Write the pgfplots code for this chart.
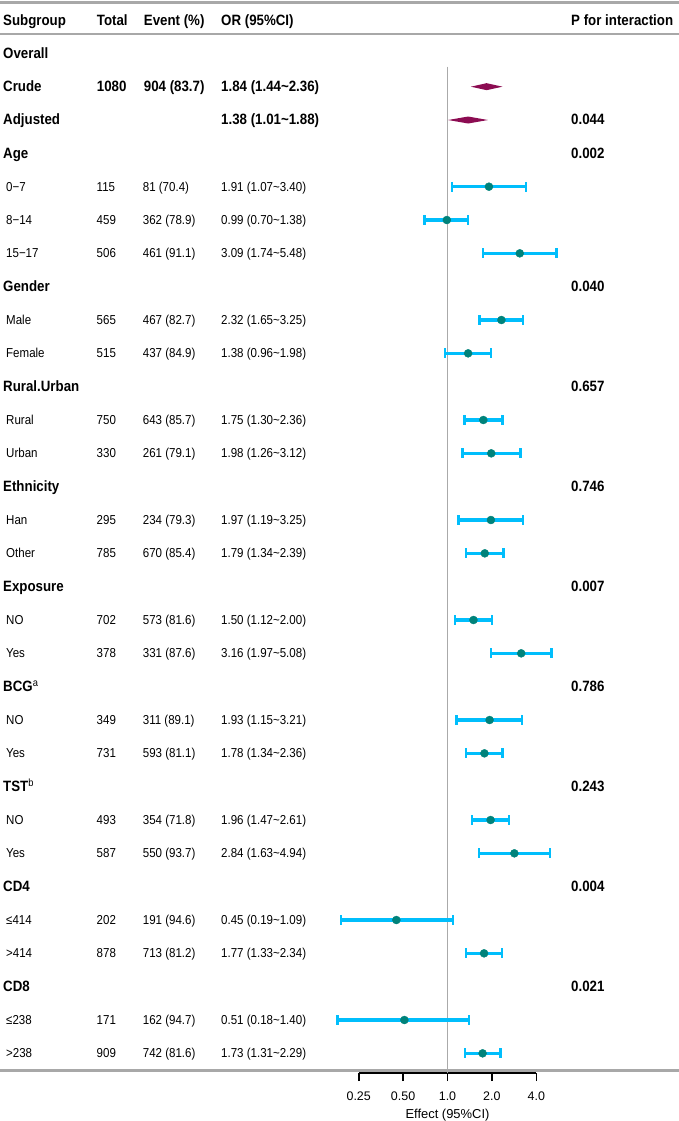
\documentclass[border=0pt]{standalone}
\usepackage{fontspec}
\setmainfont{Liberation Sans}
\newfontfamily\condfont{Liberation Sans}[FakeStretch=0.89]
\usepackage{pgfplots}
\usepackage{pgfplotstable}
\pgfplotsset{compat=1.18}
\definecolor{ciblue}{RGB}{0,190,252}
\definecolor{ptteal}{RGB}{0,130,122}
\definecolor{dmd}{RGB}{140,12,82}
\definecolor{lgray}{RGB}{168,168,168}
\definecolor{rgray}{RGB}{170,170,170}
\pgfplotsset{ciline/.style={ciblue, line width=3.1bp, mark=|, mark size=4.9bp, mark options={line width=2.4bp, solid}}}
\newcommand\ci[3]{\addplot[ciline] coordinates {(#2,-#1) (#3,-#1)};}
% row  estimate  lower  upper
\pgfplotstableread{
k  est   lo    hi
5  1.91  1.07  3.40
6  0.99  0.70  1.38
7  3.09  1.74  5.48
9  2.32  1.65  3.25
10 1.38  0.96  1.98
12 1.75  1.30  2.36
13 1.98  1.26  3.12
15 1.97  1.19  3.25
16 1.79  1.34  2.39
18 1.50  1.12  2.00
19 3.16  1.97  5.08
21 1.93  1.15  3.21
22 1.78  1.34  2.36
24 1.96  1.47  2.61
25 2.84  1.63  4.94
27 0.45  0.19  1.09
28 1.77  1.33  2.34
30 0.51  0.18  1.40
31 1.73  1.31  2.29
}\subdata
\tikzset{
  bf/.style={anchor=base west, inner sep=0pt, font=\condfont\fontsize{15}{17}\selectfont\bfseries},
  rg/.style={anchor=base west, inner sep=0pt, font=\condfont\fontsize{13}{15}\selectfont}
}
\newcommand\by[1]{25.0+33.333*#1}
\newcommand\ry[1]{24.6+33.333*#1}
\newcommand\grp[3]{\node[bf] at (3,{\by{#1}}) {#2};\node[bf] at (571,{\by{#1}}) {#3};}
\newcommand\sub[5]{\node[rg] at (6,{\ry{#1}}) {#2};\node[rg] at (96.5,{\ry{#1}}) {#3};\node[rg] at (142.7,{\ry{#1}}) {#4};\node[rg] at (221,{\ry{#1}}) {#5};}
\begin{document}
\begin{tikzpicture}
\useasboundingbox (0,0) rectangle (679bp,-1121bp);
\begin{scope}[x=1bp,y=-1bp]
\draw[lgray, line width=2.6] (0,2.7)--(679,2.7);
\draw[lgray, line width=1.8] (0,34.3)--(679,34.3);
\draw[lgray, line width=2.2] (0,1070.5)--(679,1070.5);
\end{scope}
\begin{axis}[
  at={(358.7bp,-1073bp)}, anchor=south west, scale only axis,
  width=177.6bp, height=1053bp,
  xmode=log, log basis x=2, xmin=0.25, xmax=4, ymin=-31.59, ymax=0,
  axis x line*=bottom, axis y line=none, clip=false,
  x axis line style={-, black, line width=1.6bp},
  xtick={0.25,0.5,1,2,4}, xticklabels={0.25,0.50,1.0,2.0,4.0},
  xminorticks=false,
  tick align=outside, major tick length=8bp,
  xtick style={black, line width=1.6bp},
  xticklabel style={font=\fontsize{12.5}{14}\selectfont, inner sep=0pt, yshift=-11bp},
  xlabel={Effect (95\%CI)},
  xlabel style={font=\fontsize{13}{15}\selectfont, inner sep=0pt, yshift=-8bp},
]
\addplot[rgray, line width=1.3bp] coordinates {(1,-1.4) (1,-31.59)};
% overall diamonds
\addplot[fill=dmd, draw=none] coordinates {(1.44,-2) (1.84,-1.895) (2.36,-2) (1.84,-2.105)} -- cycle;
\addplot[fill=dmd, draw=none] coordinates {(1.01,-3) (1.38,-2.895) (1.88,-3) (1.38,-3.105)} -- cycle;
\ci{5}{1.07}{3.40}
\ci{6}{0.70}{1.38}
\ci{7}{1.74}{5.48}
\ci{9}{1.65}{3.25}
\ci{10}{0.96}{1.98}
\ci{12}{1.30}{2.36}
\ci{13}{1.26}{3.12}
\ci{15}{1.19}{3.25}
\ci{16}{1.34}{2.39}
\ci{18}{1.12}{2.00}
\ci{19}{1.97}{5.08}
\ci{21}{1.15}{3.21}
\ci{22}{1.34}{2.36}
\ci{24}{1.47}{2.61}
\ci{25}{1.63}{4.94}
\ci{27}{0.19}{1.09}
\ci{28}{1.33}{2.34}
\ci{30}{0.18}{1.40}
\ci{31}{1.31}{2.29}
\addplot[only marks, mark=*, mark size=4bp, mark options={draw=ptteal, fill=ptteal}] table[x=est, y expr=-\thisrow{k}] {\subdata};
\end{axis}
\begin{scope}[x=1bp,y=-1bp]
% header
\node[bf] at (3,25) {Subgroup};
\node[bf] at (96.7,25) {Total};
\node[bf] at (143.7,25) {Event (\%)};
\node[bf] at (221,25) {OR (95\%CI)};
\node[bf] at (571,25) {P for interaction};
\node[bf] at (3,{\by{1}}) {Overall};
\node[bf] at (3,{\by{2}}) {Crude};
\node[bf] at (96.7,{\by{2}}) {1080};
\node[bf] at (143.7,{\by{2}}) {904 (83.7)};
\node[bf] at (221,{\by{2}}) {1.84 (1.44\textasciitilde 2.36)};
\node[bf] at (3,{\by{3}}) {Adjusted};
\node[bf] at (221,{\by{3}}) {1.38 (1.01\textasciitilde 1.88)};
\node[bf] at (571,{\by{3}}) {0.044};
\grp{4}{Age}{0.002}
\sub{5}{0−7}{115}{81 (70.4)}{1.91 (1.07\textasciitilde 3.40)}
\sub{6}{8−14}{459}{362 (78.9)}{0.99 (0.70\textasciitilde 1.38)}
\sub{7}{15−17}{506}{461 (91.1)}{3.09 (1.74\textasciitilde 5.48)}
\grp{8}{Gender}{0.040}
\sub{9}{Male}{565}{467 (82.7)}{2.32 (1.65\textasciitilde 3.25)}
\sub{10}{Female}{515}{437 (84.9)}{1.38 (0.96\textasciitilde 1.98)}
\grp{11}{Rural.Urban}{0.657}
\sub{12}{Rural}{750}{643 (85.7)}{1.75 (1.30\textasciitilde 2.36)}
\sub{13}{Urban}{330}{261 (79.1)}{1.98 (1.26\textasciitilde 3.12)}
\grp{14}{Ethnicity}{0.746}
\sub{15}{Han}{295}{234 (79.3)}{1.97 (1.19\textasciitilde 3.25)}
\sub{16}{Other}{785}{670 (85.4)}{1.79 (1.34\textasciitilde 2.39)}
\grp{17}{Exposure}{0.007}
\sub{18}{NO}{702}{573 (81.6)}{1.50 (1.12\textasciitilde 2.00)}
\sub{19}{Yes}{378}{331 (87.6)}{3.16 (1.97\textasciitilde 5.08)}
\grp{20}{BCG\textsuperscript{\mdseries a}}{0.786}
\sub{21}{NO}{349}{311 (89.1)}{1.93 (1.15\textasciitilde 3.21)}
\sub{22}{Yes}{731}{593 (81.1)}{1.78 (1.34\textasciitilde 2.36)}
\grp{23}{TST\textsuperscript{\mdseries b}}{0.243}
\sub{24}{NO}{493}{354 (71.8)}{1.96 (1.47\textasciitilde 2.61)}
\sub{25}{Yes}{587}{550 (93.7)}{2.84 (1.63\textasciitilde 4.94)}
\grp{26}{CD4}{0.004}
\sub{27}{≤414}{202}{191 (94.6)}{0.45 (0.19\textasciitilde 1.09)}
\sub{28}{>414}{878}{713 (81.2)}{1.77 (1.33\textasciitilde 2.34)}
\grp{29}{CD8}{0.021}
\sub{30}{≤238}{171}{162 (94.7)}{0.51 (0.18\textasciitilde 1.40)}
\sub{31}{>238}{909}{742 (81.6)}{1.73 (1.31\textasciitilde 2.29)}
\end{scope}
\end{tikzpicture}
\end{document}
